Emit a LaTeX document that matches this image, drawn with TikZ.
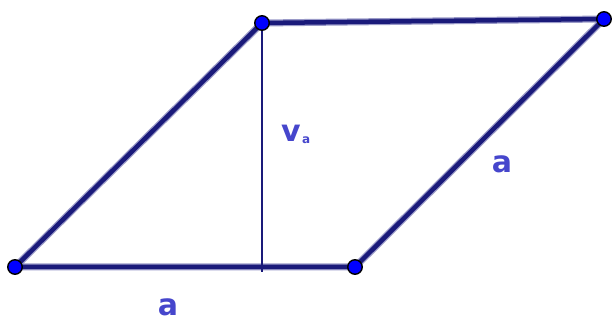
\documentclass[tikz,border=0pt]{standalone}
\usepackage{fontspec}
\setmainfont{DejaVu Sans}
\usetikzlibrary{positioning,calc}
\definecolor{PNavy}{HTML}{1A1A7A}
\definecolor{PHalo}{HTML}{9A9AC8}
\definecolor{PBlue}{HTML}{0000FF}
\definecolor{PLabel}{HTML}{4646CC}
\begin{document}
\begin{tikzpicture}[x=1pt,y=-1pt,
  side/.style={draw=PNavy, line width=4.5pt, line cap=round, line join=round},
  halo/.style={draw=PHalo, line width=7pt, line cap=round, line join=round},
  heightline/.style={draw=PNavy, line width=1.6pt},
  pt/.style={circle, fill=PBlue, draw=black, line width=1.4pt, inner sep=0pt, minimum size=14.5pt},
  lbl/.style={text=PLabel, font=\bfseries\fontsize{30}{30}\selectfont, inner sep=0pt}]
\useasboundingbox (0,0) rectangle (614,323);
% vertices
\coordinate (A) at (15,267);
\coordinate (B) at (355,267);
\coordinate (C) at (604,19);
\coordinate (D) at (262,23);
\coordinate (H) at (262,272);
% sides
\draw[halo] (A) -- (B) -- (C) -- (D) -- cycle;
\draw[side] (A) -- (B) -- (C) -- (D) -- cycle;
% height
\draw[heightline] (D) -- (H);
% points
\foreach \p in {A,B,C,D}
  \node[pt] (pt\p) at (\p) {};
% labels
\node[lbl] (va) at (291,133) {v};
\node[lbl, font=\bfseries\fontsize{12}{12}\selectfont, anchor=west] (vasub) at ($(va.east)+(1,7)$) {a};
\node[lbl] (aright) at (502,164) {a};
\node[lbl] (abottom) at (168,307) {a};
\end{tikzpicture}
\end{document}
